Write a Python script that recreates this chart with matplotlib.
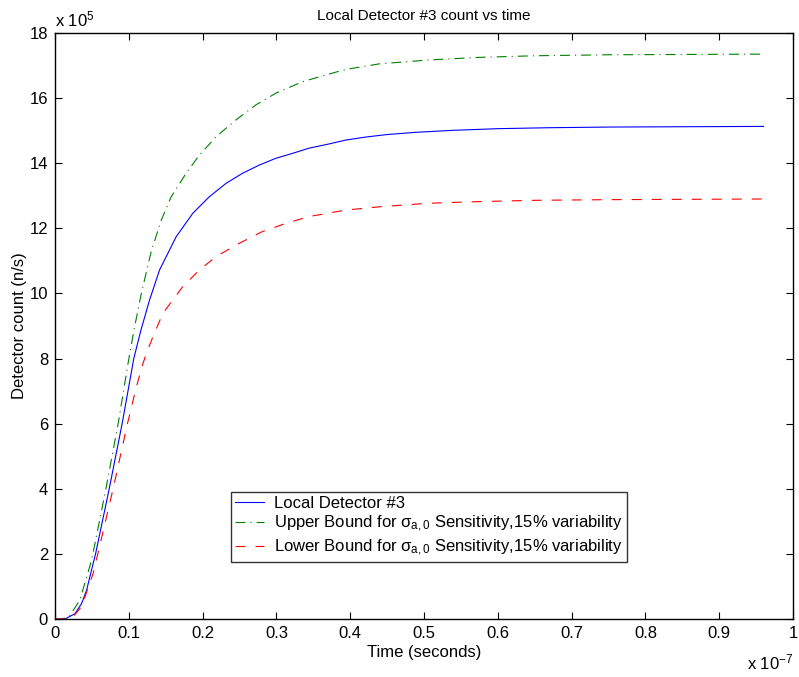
import matplotlib
matplotlib.use("Agg")
import matplotlib.pyplot as plt

plt.rcParams['font.family'] = ['Liberation Sans', 'DejaVu Sans']
plt.rcParams['mathtext.fontset'] = 'custom'
plt.rcParams['mathtext.rm'] = 'Liberation Sans'
plt.rcParams['mathtext.it'] = 'Liberation Sans'
plt.rcParams['lines.scale_dashes'] = False

# time in units of 1e-7 s, counts in units of 1e5 n/s
t_det = [0, 0.0135, 0.027, 0.036, 0.0428, 0.0495, 0.055, 0.0735, 0.091, 0.1068, 0.1162,
         0.1282, 0.1417, 0.1642, 0.1867, 0.2092, 0.2317, 0.2541, 0.2767, 0.2992, 0.3216,
         0.3441, 0.371, 0.394, 0.42, 0.45, 0.49, 0.54, 0.60, 0.67, 0.75, 0.85, 0.96]
c_det = [0, 0.0, 0.16, 0.47, 0.88, 1.5, 2.0, 4.0, 6.0, 8.0, 8.85,
         9.80, 10.72, 11.74, 12.46, 12.97, 13.38, 13.69, 13.94, 14.15, 14.30,
         14.46, 14.59, 14.71, 14.80, 14.88, 14.95, 15.01, 15.06, 15.09, 15.11, 15.12, 15.13]

t_up = [0, 0.010, 0.020, 0.0337, 0.047, 0.0514, 0.069, 0.0856, 0.099, 0.1068, 0.117,
        0.1305, 0.144, 0.1575, 0.1777, 0.1957, 0.2182, 0.2452, 0.2722, 0.2992, 0.3351,
        0.3667, 0.394, 0.439, 0.506, 0.574, 0.65, 0.75, 0.85, 0.96]
c_up = [0, 0.0, 0.1, 0.58, 1.6, 2.0, 4.0, 6.0, 7.85, 8.85, 10.0,
        11.3, 12.25, 12.97, 13.69, 14.25, 14.81, 15.33, 15.79, 16.15, 16.50,
        16.71, 16.88, 17.05, 17.17, 17.25, 17.30, 17.33, 17.34, 17.35]

t_low = [0, 0.015, 0.025, 0.036, 0.0517, 0.058, 0.0788, 0.0982, 0.1104, 0.1194, 0.124,
         0.1329, 0.1462, 0.1597, 0.1732, 0.1957, 0.2182, 0.2497, 0.2811, 0.3127, 0.3441,
         0.3689, 0.394, 0.439, 0.506, 0.574, 0.65, 0.75, 0.85, 0.96]
c_low = [0, 0.0, 0.08, 0.38, 1.4, 2.0, 4.0, 6.0, 7.14, 7.86, 8.16,
         8.68, 9.39, 9.80, 10.21, 10.72, 11.13, 11.54, 11.90, 12.15, 12.36,
         12.46, 12.56, 12.66, 12.77, 12.82, 12.86, 12.88, 12.89, 12.90]

fig = plt.figure(figsize=(7.99, 6.77), dpi=100)
ax = fig.add_axes([0.0688, 0.0857, 0.9237, 0.8656])

ax.plot(t_det, c_det, color='blue', lw=0.8, label='Local Detector #3')
ax.plot(t_up, c_up, color='#008000', lw=0.8, dashes=(7.2, 3.6, 0.8, 3.6),
        label=r'Upper Bound for $\sigma_{a,0}$ Sensitivity,15% variability')
ax.plot(t_low, c_low, color='red', lw=0.8, dashes=(7.2, 7.2),
        label=r'Lower Bound for $\sigma_{a,0}$ Sensitivity,15% variability')

ax.set_xlim(0, 1)
ax.set_ylim(0, 18)
ax.set_xticks([i / 10 for i in range(11)])
ax.set_xticklabels(['0'] + ['0.%d' % i for i in range(1, 10)] + ['1'])
ax.set_yticks(range(0, 19, 2))
ax.tick_params(direction='in', length=5, width=0.8, top=True, right=True, labelsize=12, pad=5)
for s in ax.spines.values():
    s.set_linewidth(1.0)

ax.set_title('Local Detector #3 count vs time', fontsize=11, pad=9)
ax.set_xlabel('Time (seconds)', fontsize=12, labelpad=3)
ax.set_ylabel('Detector count (n/s)', fontsize=12, labelpad=2)
ax.text(0.0, 1.006, r'x 10$^{5}$', transform=ax.transAxes, fontsize=12, ha='left', va='bottom')
ax.text(1.0, -0.058, r'x 10$^{-7}$', transform=ax.transAxes, fontsize=12, ha='right', va='top')

leg = ax.legend(loc='lower left', bbox_to_anchor=(0.238, 0.097), fontsize=12, frameon=True,
                fancybox=False, edgecolor='black', handlelength=1.75, handletextpad=0.6,
                labelspacing=0.2, borderpad=0.25, borderaxespad=0)
leg.get_frame().set_linewidth(1.0)

fig.savefig('out.png', dpi=100)
